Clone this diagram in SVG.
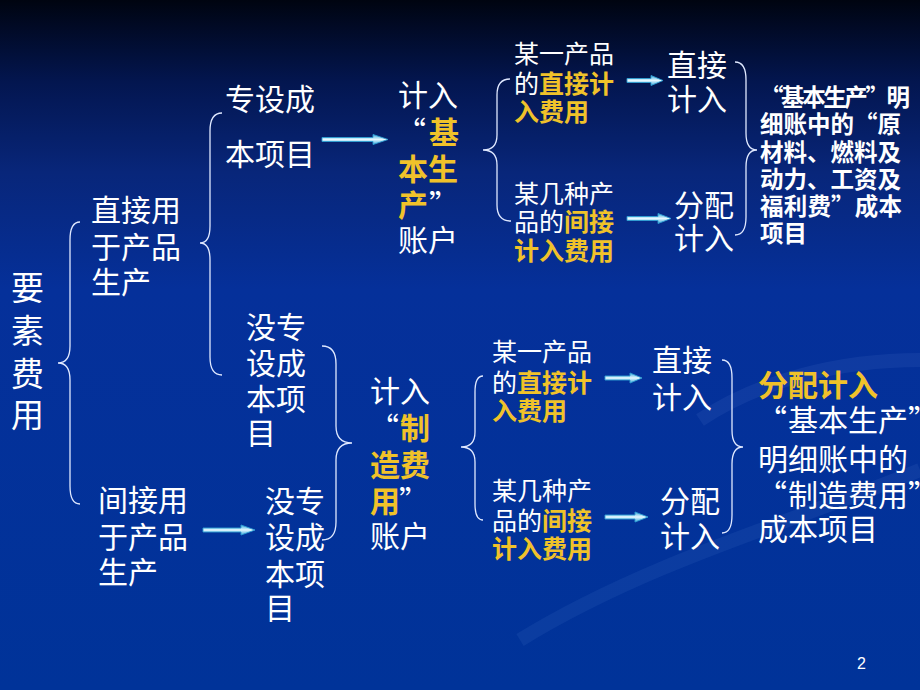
<svg xmlns="http://www.w3.org/2000/svg" width="920" height="690" viewBox="0 0 920 690">
<defs>
<linearGradient id="bg" x1="0" y1="0" x2="0" y2="1">
<stop offset="0" stop-color="#000410"/>
<stop offset="0.04" stop-color="#010a26"/>
<stop offset="0.12" stop-color="#031650"/>
<stop offset="0.25" stop-color="#08267a"/>
<stop offset="0.42" stop-color="#05309a"/>
<stop offset="1" stop-color="#003399"/>
</linearGradient>
<linearGradient id="arr" x1="0" y1="0" x2="0" y2="1">
<stop offset="0" stop-color="#3aa8dc"/>
<stop offset="0.5" stop-color="#e6f8ff"/>
<stop offset="1" stop-color="#3aa8dc"/>
</linearGradient>
<style>
text{font-family:"Noto Sans CJK SC","Noto Sans CJK TC",sans-serif;fill:#ffffff}
.t30{font-size:30px}
.t34{font-size:33px}
.t25{font-size:25px}
.t23{font-size:23.5px;font-weight:bold}
.y{fill:#f0c22a;font-weight:bold}
.brace{fill:none;stroke:#dfe8ff;stroke-width:1.3}
.arrow{fill:url(#arr);stroke:#2f9fd4;stroke-width:0.9}
.pg{font-family:"Liberation Sans",Arial,sans-serif;font-size:16px}
</style>
</defs>
<rect width="920" height="690" fill="url(#bg)"/>
<g opacity="0.07" fill="none" stroke="#9fc0ff" stroke-width="14">
<path d="M520,640 C650,560 800,520 920,470"/>
<path d="M700,420 C760,380 840,360 920,360"/>
</g>

<g id="connectors">
<path class="brace" d="M80,222 Q70,222 70,240 L70,346 Q70,363 58,363 Q70,363 70,380 L70,486 Q70,504 80,504"/>
<path class="brace" d="M222,113 Q210,113 210,131 L210,226 Q210,243 200,243 Q210,243 210,260 L210,357 Q210,375 222,375"/>
<path class="brace" d="M510,79 Q497,79 497,95 L497,135 Q497,150 483,150 Q497,150 497,165 L497,205 Q497,221 511,221"/>
<path class="brace" d="M735,62 Q746,62 746,80 L746,133 Q746,150 757,150 Q746,150 746,167 L746,217 Q746,235 735,235"/>
<path class="brace" d="M322,346 Q336,346 336,364 L336,426 Q336,443 352,443 Q336,443 336,460 L336,522 Q336,540 322,540"/>
<path class="brace" d="M483,376 Q475,376 475,392 L475,432 Q475,447 461,447 Q475,447 475,462 L475,504 Q475,520 483,520"/>
<path class="brace" d="M722,360 Q732,360 732,378 L732,430 Q732,447 743,447 Q732,447 732,464 L732,515 Q732,533 722,533"/>
<path class="arrow" d="M322,137.5 L373,137.5 L373,134.5 L388,139.5 L373,144.5 L373,141.5 L322,141.5 Z"/>
<path class="arrow" d="M627,78.5 L651,78.5 L651,75.5 L663,80.5 L651,85.5 L651,82.5 L627,82.5 Z"/>
<path class="arrow" d="M627,216.5 L658,216.5 L658,213.5 L671,218.5 L658,223.5 L658,220.5 L627,220.5 Z"/>
<path class="arrow" d="M203,528 L241,528 L241,525 L255,530 L241,535 L241,532 L203,532 Z"/>
<path class="arrow" d="M605,376 L630,376 L630,373 L642,378 L630,383 L630,380 L605,380 Z"/>
<path class="arrow" d="M605,515 L635,515 L635,512 L648,517 L635,522 L635,519 L605,519 Z"/>
</g>

<g id="n-yaosu"><text class="t34"><tspan x="11" y="300">要</tspan><tspan x="11" y="343">素</tspan><tspan x="11" y="386">费</tspan><tspan x="11" y="427">用</tspan></text></g>

<g id="n-zhijie"><text class="t30"><tspan x="91" y="221">直接用</tspan><tspan x="91" y="258">于产品</tspan><tspan x="91" y="293">生产</tspan></text></g>

<g id="n-jianjie"><text class="t30"><tspan x="98" y="511">间接用</tspan><tspan x="98" y="548">于产品</tspan><tspan x="98" y="583">生产</tspan></text></g>

<g id="n-zhuanshe"><text class="t30"><tspan x="225" y="110">专设成</tspan><tspan x="225" y="165">本项目</tspan></text></g>

<g id="n-meizhuan1"><text class="t30"><tspan x="246" y="338">没专</tspan><tspan x="246" y="374">设成</tspan><tspan x="246" y="410">本项</tspan><tspan x="246" y="444">目</tspan></text></g>

<g id="n-meizhuan2"><text class="t30"><tspan x="265" y="512">没专</tspan><tspan x="265" y="548">设成</tspan><tspan x="265" y="585">本项</tspan><tspan x="265" y="619">目</tspan></text></g>

<g id="n-jiben">
<text class="t30"><tspan x="398" y="106">计入</tspan><tspan x="396" y="143">“</tspan><tspan class="y" x="429" y="143">基</tspan><tspan class="y" x="398" y="180">本生</tspan><tspan class="y" x="398" y="216">产</tspan><tspan x="429" y="216">”</tspan><tspan x="398" y="251">账户</tspan></text>
</g>

<g id="n-zhizao">
<text class="t30"><tspan x="369" y="439">“</tspan><tspan class="y" x="400" y="439">制</tspan><tspan x="370" y="402">计入</tspan><tspan class="y" x="370" y="476">造费</tspan><tspan class="y" x="370" y="512">用</tspan><tspan x="399" y="512">”</tspan><tspan x="370" y="547">账户</tspan></text>
</g>

<g id="n-top-direct"><text class="t25"><tspan x="514" y="63">某一产品</tspan><tspan x="514" y="93">的</tspan><tspan class="y">直接计</tspan><tspan class="y" x="514" y="121">入费用</tspan></text></g>

<g id="n-top-indirect"><text class="t25"><tspan x="514" y="203">某几种产</tspan><tspan x="514" y="231">品的</tspan><tspan class="y">间接</tspan><tspan class="y" x="514" y="260">计入费用</tspan></text></g>

<g id="n-bot-direct"><text class="t25"><tspan x="492" y="361">某一产品</tspan><tspan x="492" y="392">的</tspan><tspan class="y">直接计</tspan><tspan class="y" x="492" y="420">入费用</tspan></text></g>

<g id="n-bot-indirect"><text class="t25"><tspan x="492" y="500">某几种产</tspan><tspan x="492" y="530">品的</tspan><tspan class="y">间接</tspan><tspan class="y" x="492" y="558">计入费用</tspan></text></g>

<g id="n-top-zj"><text class="t30"><tspan x="667" y="76">直接</tspan><tspan x="667" y="110">计入</tspan></text></g>
<g id="n-top-fp"><text class="t30"><tspan x="674" y="216">分配</tspan><tspan x="674" y="249">计入</tspan></text></g>
<g id="n-bot-zj"><text class="t30"><tspan x="652" y="371">直接</tspan><tspan x="652" y="408">计入</tspan></text></g>
<g id="n-bot-fp"><text class="t30"><tspan x="660" y="512">分配</tspan><tspan x="660" y="547">计入</tspan></text></g>

<g id="n-top-result">
<text class="t23" x="760" y="106" textLength="150" lengthAdjust="spacing">“基本生产”明</text>
<text class="t23" x="760" y="133" textLength="141" lengthAdjust="spacing">细账中的“原</text>
<text class="t23" x="760" y="161">材料、燃料及</text>
<text class="t23" x="760" y="188">动力、工资及</text>
<text class="t23" x="760" y="215" textLength="142" lengthAdjust="spacing">福利费”成本</text>
<text class="t23" x="760" y="242">项目</text>
</g>

<g id="n-bot-result">
<text class="t30 y" x="758" y="396">分配计入</text>
<text class="t30"><tspan x="757" y="431">“</tspan><tspan x="788" y="431">基本生产</tspan><tspan x="908" y="431">”</tspan></text>
<text class="t30" x="758" y="470">明细账中的</text>
<text class="t30"><tspan x="757" y="506">“</tspan><tspan x="788" y="506">制造费用</tspan><tspan x="908" y="506">”</tspan></text>
<text class="t30" x="758" y="540">成本项目</text>
</g>

<text class="pg" x="857" y="669">2</text>
</svg>
